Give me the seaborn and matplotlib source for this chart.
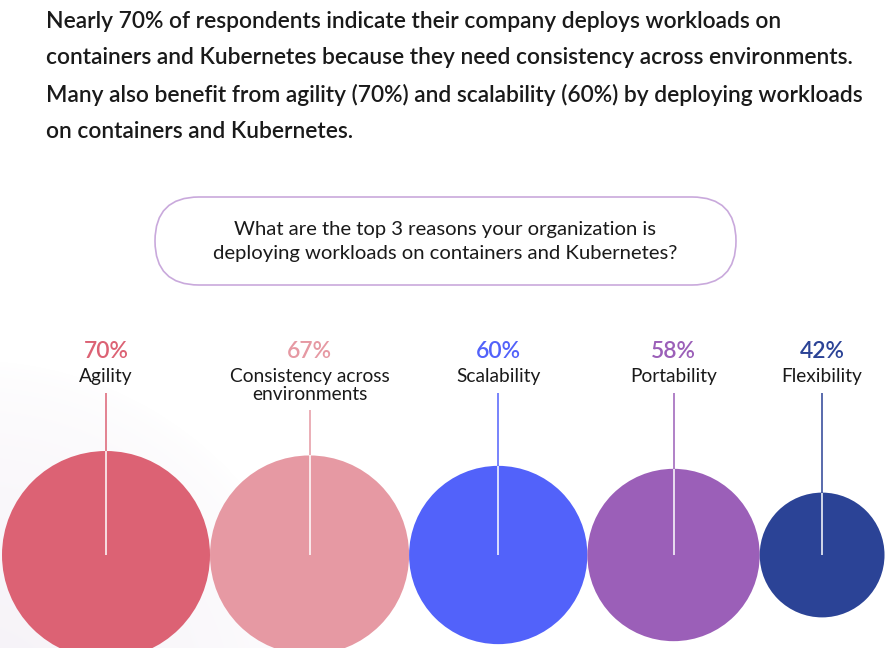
import numpy as np
import pandas as pd
import matplotlib.pyplot as plt
import seaborn as sns
from matplotlib.patches import FancyBboxPatch

# Dane z wykresu
reasons = ['Agility', 'Consistency across\nenvironments', 'Scalability', 'Portability', 'Flexibility']
percents = [70, 67, 60, 58, 42]
colors = ['#dc6274', '#e699a3', '#5262fa', '#9b5fb8', '#2b4396']

headline = ("Nearly 70% of respondents indicate their company deploys workloads on\n"
            "containers and Kubernetes because they need consistency across environments.\n"
            "Many also benefit from agility (70%) and scalability (60%) by deploying workloads\n"
            "on containers and Kubernetes.")
question = ("What are the top 3 reasons your organization is\n"
            "deploying workloads on containers and Kubernetes?")

sns.set_theme(style='white')
plt.rcParams['font.family'] = ['Lato', 'DejaVu Sans']

W, H, DPI = 891, 648, 100
fig = plt.figure(figsize=(W / DPI, H / DPI), dpi=DPI)
ax = fig.add_axes([0, 0, 1, 1])

# delikatny gradient w lewym dolnym rogu
gx, gy = np.meshgrid(np.arange(W), np.arange(H))
dist = np.hypot(gx + 30, gy - 720)
shade = np.clip(1 - dist / 360, 0, 1) ** 0.6
tint = np.array([0.962, 0.948, 0.97])
bg = np.ones((H, W, 3)) * (1 - shade[..., None]) + tint * shade[..., None]
ax.imshow(bg, extent=(0, W, H, 0), zorder=0)

# promien proporcjonalny do wartosci, kola stykaja sie ze soba
k = 104 / 70
radii = np.array(percents) * k
cx = 2 + np.cumsum(2 * radii) - radii
cy = 555

df = pd.DataFrame({'reason': reasons, 'pct': percents, 'x': cx, 'y': cy})
sizes = {r: (2 * rad * 72 / DPI) ** 2 for r, rad in zip(reasons, radii)}
sns.scatterplot(data=df, x='x', y='y', hue='reason', size='reason',
                palette=dict(zip(reasons, colors)), sizes=sizes,
                linewidth=0, legend=False, ax=ax, zorder=2)
ax.set_xlim(0, W)
ax.set_ylim(H, 0)
ax.axis('off')

for i, row in df.iterrows():
    two_lines = '\n' in row['reason']
    top = 410 if two_lines else 393
    ax.vlines(row['x'], top, cy - radii[i], color=colors[i], lw=1.1, zorder=3)
    ax.vlines(row['x'], cy - radii[i], cy, color='white', lw=1.1, zorder=3)
    ax.text(row['x'], 352, f"{row['pct']}%", color=colors[i], fontsize=16.5,
            fontweight='semibold', ha='center', va='center', zorder=4)
    ax.text(row['x'], 368, row['reason'], color='#1a1a1a', fontsize=13.8,
            ha='center', va='top', linespacing=1.1, zorder=4)

# naglowek
ax.text(46, 11, headline, fontsize=16.4, fontweight='semibold', color='#1a1a1a',
        ha='left', va='top', linespacing=1.88)

# pytanie w "pigulce"
pill = FancyBboxPatch((155, 197), 581, 88, boxstyle='round,pad=0,rounding_size=44',
                      fc='white', ec='#c9a9dc', lw=1.2, zorder=1)
ax.add_patch(pill)
ax.text(445.5, 241, question, fontsize=14.6, color='#1a1a1a', ha='center',
        va='center', linespacing=1.5, zorder=2)

fig.savefig('out.png', dpi=DPI)
